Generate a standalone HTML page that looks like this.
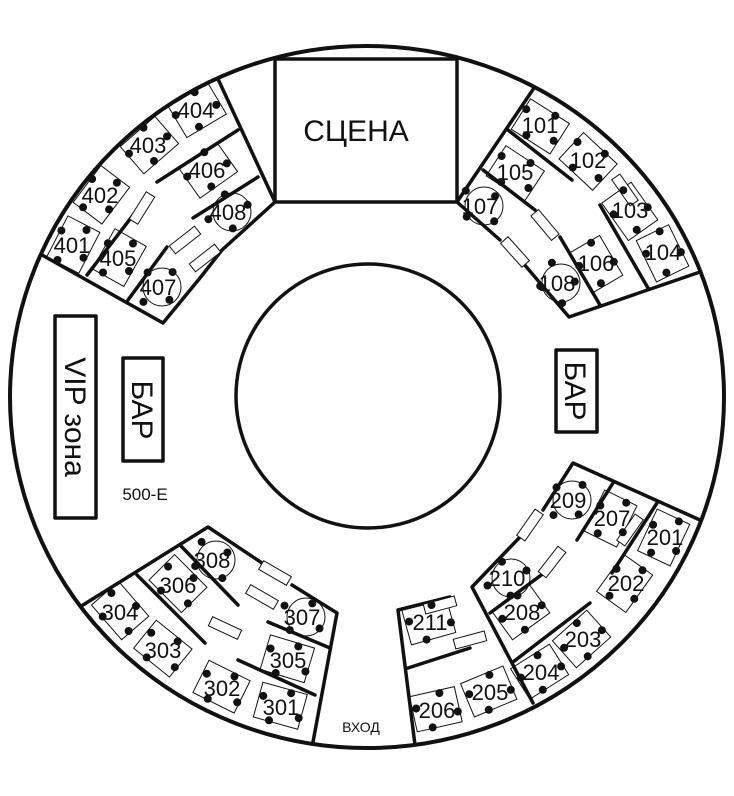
<!DOCTYPE html>
<html><head><meta charset="utf-8"><style>
html,body{margin:0;padding:0;background:#fff}
svg{display:block}
text{font-family:"Liberation Sans","DejaVu Sans",sans-serif;fill:#111}
.lbl{font-size:22px;text-anchor:middle}
</style></head><body>
<svg id="s" width="734" height="796" viewBox="0 0 734 796" xmlns="http://www.w3.org/2000/svg">
<g fill="none" stroke="#111" stroke-linecap="round" stroke-linejoin="round">
<ellipse cx="367" cy="397" rx="357" ry="351" stroke-width="4"/>
<circle cx="368" cy="396" r="132" stroke-width="3.5"/>
<rect x="275" y="59" width="182" height="143" stroke-width="3.5" fill="#fff"/>
<rect x="556" y="350" width="41" height="82" stroke-width="3.5"/>
<rect x="123" y="358" width="40" height="103" stroke-width="3.5"/>
<rect x="55" y="316" width="41" height="202" stroke-width="3.5"/>
<g stroke-width="3.5">
<path d="M42,255 L163,323 L200,278 L222,250 L275,202 L218,79"/>
<path d="M87,275 L137,210 M157,182 L238,130 M193,218 L258,177 M128,300 L167,247"/>
<path d="M534,88 L457,202 L500,240 M523,263 L569,317 L700,272"/>
<path d="M508,130 L572,180 M483,170 L535,210 M600,205 L648,288 M560,237 L600,305"/>
<path d="M700,520 L573,463 L543,510 M520,537 L472,587 L533,703"/>
<path d="M398,610 L450,597 M398,610 L415,745 M408,668 L470,648"/>
<path d="M490,613 L552,567 M513,662 L590,603 M577,540 L613,483 M612,573 L657,503"/>
<path d="M83,605 L208,527 L265,565 M292,585 L337,613 L313,742"/>
<path d="M137,575 L205,643 M180,545 L238,605 M238,660 L315,695 M268,622 L330,648"/>
</g>
</g>
<g id="tables" fill="none" stroke="#111" stroke-width="1"></g>
<g id="doors" fill="#fff" stroke="#111" stroke-width="1"></g>
<g id="dots" fill="#111"></g>
<text x="356" y="141" font-size="30" text-anchor="middle">СЦЕНА</text>
<text transform="translate(565,391) rotate(90)" font-size="30" text-anchor="middle">БАР</text>
<text transform="translate(132,410) rotate(90)" font-size="30" text-anchor="middle">БАР</text>
<text transform="translate(65,417) rotate(90)" font-size="30" text-anchor="middle">VIP зона</text>
<text x="145" y="500" font-size="17" text-anchor="middle">500-Е</text>
<text x="361" y="732" font-size="14" text-anchor="middle">ВХОД</text>
<g class="lbl">
<text class="lbl" x="540" y="133">101</text><text class="lbl" x="588" y="168">102</text>
<text class="lbl" x="630" y="218">103</text><text class="lbl" x="663" y="260">104</text>
<text class="lbl" x="515" y="180">105</text><text class="lbl" x="596" y="271">106</text>
<text class="lbl" x="480" y="214">107</text><text class="lbl" x="557" y="291">108</text>
<text class="lbl" x="72" y="253">401</text><text class="lbl" x="100" y="203">402</text>
<text class="lbl" x="148" y="153">403</text><text class="lbl" x="196" y="118">404</text>
<text class="lbl" x="118" y="266">405</text><text class="lbl" x="207" y="178">406</text>
<text class="lbl" x="158" y="295">407</text><text class="lbl" x="228" y="220">408</text>
<text class="lbl" x="665" y="545">201</text><text class="lbl" x="626" y="591">202</text>
<text class="lbl" x="583" y="647">203</text><text class="lbl" x="541" y="680">204</text>
<text class="lbl" x="490" y="700">205</text><text class="lbl" x="437" y="718">206</text>
<text class="lbl" x="612" y="526">207</text><text class="lbl" x="522" y="620">208</text>
<text class="lbl" x="568" y="508">209</text><text class="lbl" x="507" y="586">210</text>
<text class="lbl" x="430" y="630">211</text>
<text class="lbl" x="281" y="715">301</text><text class="lbl" x="222" y="696">302</text>
<text class="lbl" x="163" y="658">303</text><text class="lbl" x="120" y="620">304</text>
<text class="lbl" x="288" y="668">305</text><text class="lbl" x="178" y="593">306</text>
<text class="lbl" x="302" y="625">307</text><text class="lbl" x="212" y="568">308</text>
</g>
</svg>
<script>
(function(){
var NS="http://www.w3.org/2000/svg";
function el(p,t,a){var e=document.createElementNS(NS,t);for(var k in a)e.setAttribute(k,a[k]);document.getElementById(p).appendChild(e);return e;}
var T=[[540,125,0],[588,160,0],[630,210,0],[663,252,0],[515,172,0],[596,263,0],[480,206,1],[557,283,1],
[72,245,0],[100,195,0],[148,145,0],[196,110,0],[118,258,0],[207,170,0],[158,287,1],[228,212,1],
[665,537,0],[626,583,0],[583,639,0],[541,672,0],[490,692,0],[437,710,0],[612,518,0],[522,612,0],[568,500,1],[507,578,1],[430,622,0],
[281,707,0],[222,688,0],[163,650,0],[120,612,0],[288,660,0],[178,585,0],[302,617,1],[212,560,1]];
T.forEach(function(t){
 var x=t[0],y=t[1];var a=Math.atan2(y-397,x-367)*180/Math.PI+90;
 if(t[2]) el("tables","circle",{cx:x+4,cy:y,r:19});
 else el("tables","rect",{x:x-22,y:y-17,width:46,height:36,transform:"rotate("+a.toFixed(1)+" "+x+" "+y+")"});
 var r=a*Math.PI/180,c=Math.cos(r),s=Math.sin(r);
 [[-20,-6],[20,6],[-6,16],[8,-16]].forEach(function(d){
  el("dots","circle",{cx:(x+d[0]*c-d[1]*s).toFixed(1),cy:(y+d[0]*s+d[1]*c).toFixed(1),r:4});
 });
});
var D=[[142,208,-58],[185,240,-38],[205,258,-38],[625,190,55],[545,225,50],[515,252,48],
[530,525,-55],[552,562,-52],[630,530,-55],[440,605,-15],[470,640,-15],[275,573,30],[262,597,30],[225,628,25]];
D.forEach(function(d){el("doors","rect",{x:d[0]-16,y:d[1]-5,width:32,height:10,transform:"rotate("+d[2]+" "+d[0]+" "+d[1]+")"});});
})();
</script>
</body></html>
